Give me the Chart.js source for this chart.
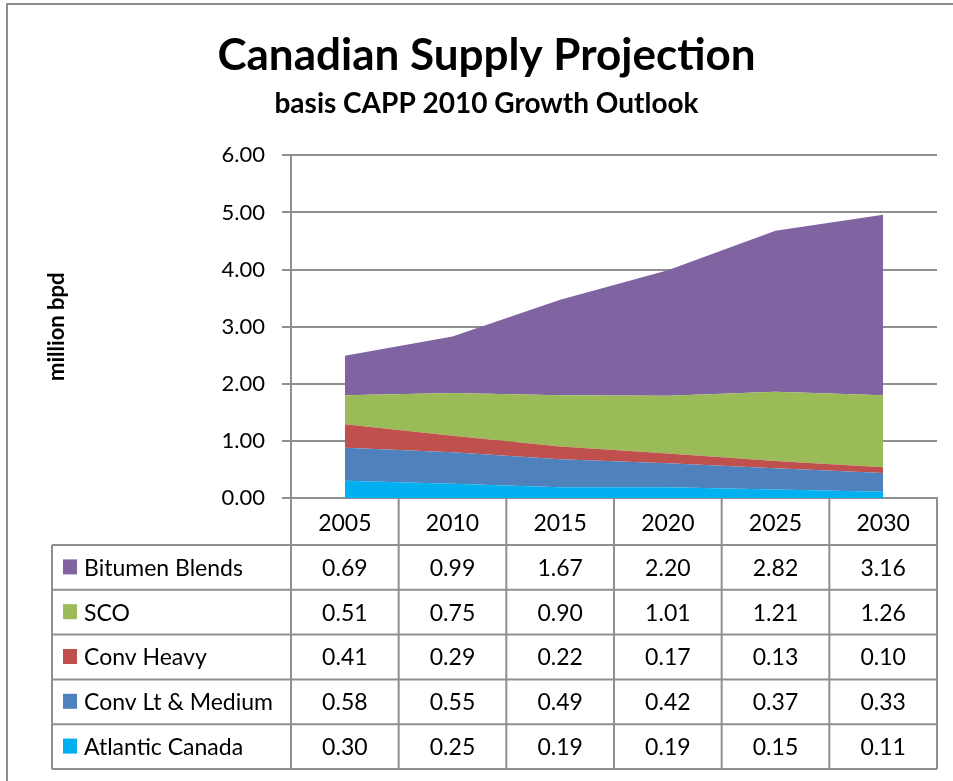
<!DOCTYPE html>
<html>
<head>
<meta charset="utf-8">
<script src="https://cdn.jsdelivr.net/npm/chart.js@4"></script>
<style>
  html, body { margin: 0; padding: 0; background: #fff; overflow: hidden; }
  #frame { position: absolute; left: 6px; top: 3px; width: 1000px; height: 1000px; border: 2px solid #8e8e8e; }
  #myChart { position: absolute; left: 0; top: 0; }
</style>
</head>
<body>
<div id="frame"></div>
<canvas id="myChart" width="953" height="781"></canvas>
<script>
const years = ['2005', '2010', '2015', '2020', '2025', '2030'];
const atlanticCanada = [0.30, 0.25, 0.19, 0.19, 0.15, 0.11];
const convLtMedium = [0.58, 0.55, 0.49, 0.42, 0.37, 0.33];
const convHeavy = [0.41, 0.29, 0.22, 0.17, 0.13, 0.10];
const sco = [0.51, 0.75, 0.90, 1.01, 1.21, 1.26];
const bitumenBlends = [0.69, 0.99, 1.67, 2.20, 2.82, 3.16];

const seriesNames = ['Atlantic Canada', 'Conv Lt & Medium', 'Conv Heavy', 'SCO', 'Bitumen Blends'];
const seriesValues = [atlanticCanada, convLtMedium, convHeavy, sco, bitumenBlends];
const seriesColors = ['#00B0F0', '#4F81BD', '#C0504D', '#9BBB59', '#8064A2'];

const GRID = '#8f8f8f';
Chart.defaults.font.family = 'Lato, "Open Sans", sans-serif';
Chart.defaults.color = '#000';

// data table under the plot, drawn from the same arrays and x scale
const dataTable = {
    id: 'dataTable',
    afterDraw(chart) {
        const ctx = chart.ctx;
        const area = chart.chartArea;
        const n = years.length;
        const colW = (area.right - area.left) / n;
        const tableLeft = 52;
        const headBottom = 545;
        const rowH = 44.8;
        const rows = seriesNames.length;
        const tableBottom = headBottom + rows * rowH;

        ctx.save();
        ctx.strokeStyle = GRID;
        ctx.lineWidth = 2;
        ctx.beginPath();
        for (let i = 0; i <= n; i++) {
            const x = area.left + i * colW;
            ctx.moveTo(x, area.bottom);
            ctx.lineTo(x, tableBottom);
        }
        ctx.moveTo(tableLeft, headBottom);
        ctx.lineTo(tableLeft, tableBottom);
        for (let r = 0; r <= rows; r++) {
            const y = headBottom + r * rowH;
            ctx.moveTo(tableLeft, y);
            ctx.lineTo(area.right, y);
        }
        ctx.stroke();

        ctx.font = '23px Lato';
        ctx.textBaseline = 'middle';
        for (let r = 0; r < rows; r++) {
            const s = rows - 1 - r;
            const cy = headBottom + r * rowH + rowH / 2;
            ctx.fillStyle = seriesColors[s];
            ctx.fillRect(63, cy - 8, 14, 15);
            ctx.fillStyle = '#000';
            ctx.textAlign = 'left';
            ctx.fillText(seriesNames[s], 84, cy + 1);
            ctx.textAlign = 'center';
            seriesValues[s].forEach((v, i) => {
                ctx.fillText(v.toFixed(2), chart.scales.x.getPixelForValue(i), cy + 1);
            });
        }
        ctx.restore();
    }
};

const ctx = document.getElementById('myChart');
const PLOT = new Chart(ctx, {
    type: 'line',
    data: {
        labels: years,
        datasets: seriesNames.map((name, i) => ({
            label: name,
            data: seriesValues[i],
            backgroundColor: seriesColors[i],
            borderColor: seriesColors[i],
            borderWidth: 0,
            pointRadius: 0,
            tension: 0,
            fill: i === 0 ? 'origin' : '-1'
        }))
    },
    options: {
        responsive: false,
        animation: false,
        layout: { padding: { left: 36, right: 16, top: 0, bottom: 0 } },
        plugins: {
            legend: { display: false },
            tooltip: { enabled: false },
            title: {
                display: true,
                text: 'Canadian Supply Projection',
                font: { size: 44, weight: 'bold' },
                padding: { top: 29, bottom: 0 }
            },
            subtitle: {
                display: true,
                text: 'basis CAPP 2010 Growth Outlook',
                color: '#000',
                font: { size: 28, weight: 'bold' },
                padding: { top: 5, bottom: 35 }
            }
        },
        scales: {
            x: {
                offset: true,
                grid: { display: false, offset: true },
                border: { color: GRID, width: 2 },
                ticks: { font: { size: 23 }, padding: 4 },
                afterFit: s => { s.height = 283; }
            },
            y: {
                stacked: true,
                min: 0,
                max: 6,
                ticks: { stepSize: 1, font: { size: 22 }, padding: 17, callback: v => v.toFixed(2) },
                grid: { color: GRID, lineWidth: 2, tickLength: 9 },
                border: { color: GRID, width: 2 },
                title: {
                    display: true,
                    text: 'million bpd',
                    font: { size: 22, weight: 'bold' },
                    padding: { top: 8, bottom: 0 }
                },
                afterFit: s => { s.width = 255; }
            }
        }
    },
    plugins: [dataTable]
});
</script>
</body>
</html>
